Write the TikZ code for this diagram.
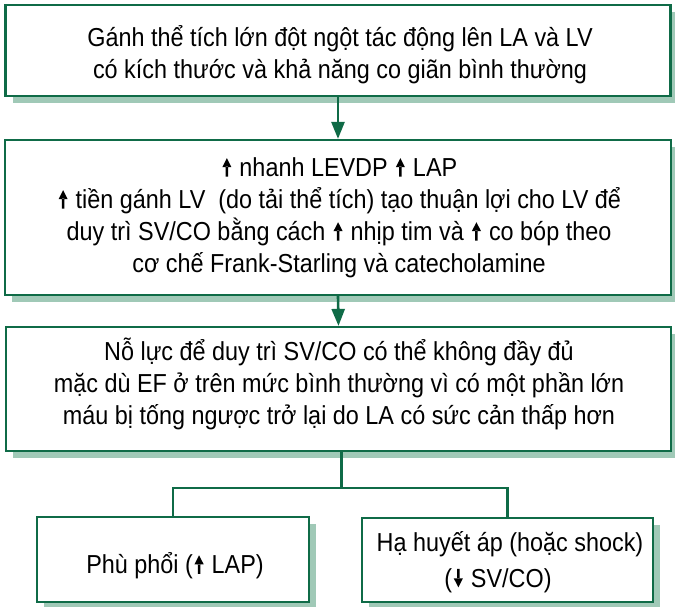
\documentclass[tikz,border=0pt]{standalone}
\usepackage{fontspec}
\setmainfont{Liberation Sans}[FakeStretch=0.9]
\usetikzlibrary{arrows.meta,shadows}
\definecolor{boxline}{HTML}{0F6B47}
\definecolor{boxshadow}{HTML}{A0C9B7}
% inline arrow symbols: thick shaft with a triangular head
\newcommand\uparr{\hspace{1.5pt}\tikz[baseline=0pt, x=1pt, y=1pt]
  \fill[black] (-1.3,0) rectangle (1.3,10) (-4.6,9.5) -- (4.6,9.5) -- (0,18.5) -- cycle;\hspace{1.5pt}}
\newcommand\downarr{\hspace{1.5pt}\tikz[baseline=0pt, x=1pt, y=1pt]
  \fill[black] (-1.3,18.5) rectangle (1.3,8.5) (-4.6,9) -- (4.6,9) -- (0,0) -- cycle;\hspace{1.5pt}}
\tikzset{
  flowbox/.style={draw=boxline, line width=2.2pt, fill=white, rectangle,
    inner sep=0pt,
    drop shadow={shadow xshift=7pt, shadow yshift=-7pt, fill=boxshadow, opacity=1}},
  flowtext/.style={inner sep=0pt, align=center,
    font=\fontsize{26}{32}\selectfont},
  link/.style={draw=boxline, line width=2.6pt},
  flowarrow/.style={link, -{Triangle[length=17pt,width=13pt]}}
}
\begin{document}
\begin{tikzpicture}[x=1pt,y=-1pt]
  \useasboundingbox (0,0) rectangle (675,607);
  % boxes
  \node[flowbox, minimum width=665pt, minimum height=91pt] (b1) at (338,50.5) {};
  \node[flowbox, minimum width=666pt, minimum height=155pt] (b2) at (338,217.5) {};
  \node[flowbox, minimum width=665pt, minimum height=124pt] (b3) at (338.5,389) {};
  \node[flowbox, minimum width=272pt, minimum height=85pt] (b4) at (173,559.5) {};
  \node[flowbox, minimum width=291pt, minimum height=84pt] (b5) at (507.5,560) {};
  % texts
  \node[flowtext] (t1) at (340,54.5)
    {Gánh thể tích lớn đột ngột tác động lên LA và LV\\
     có kích thước và khả năng co giãn bình thường};
  \node[flowtext] (t2) at (339,218)
    {\uparr{} nhanh LEVDP \uparr{} LAP\\
     \uparr{} tiền gánh LV\ \ (do tải thể tích) tạo thuận lợi cho LV để\\
     duy trì SV/CO bằng cách \uparr{} nhịp tim và \uparr{} co bóp theo\\
     cơ chế Frank-Starling và catecholamine};
  \node[flowtext] (t3) at (339,383.5)
    {Nỗ lực để duy trì SV/CO có thể không đầy đủ\\
     mặc dù EF ở trên mức bình thường vì có một phần lớn\\
     máu bị tống ngược trở lại do LA có sức cản thấp hơn};
  \node[flowtext] (t4) at (175,566)
    {Phù phổi (\uparr{} LAP)};
  \node[flowtext] (t5) at (510,562)
    {Hạ huyết áp (hoặc shock)\\[4pt](\downarr{} SV/CO)\hspace*{24pt}};
  % connectors
  \coordinate (fork) at (341.5,488);
  \draw[flowarrow] (b1.south) -- (b2.north);
  \draw[flowarrow] (b2.south) -- (b3.north);
  \draw[link] (b3.south -| fork) -- (fork);
  \draw[link] (b4.north) |- (fork) -| (b5.north);
\end{tikzpicture}
\end{document}
